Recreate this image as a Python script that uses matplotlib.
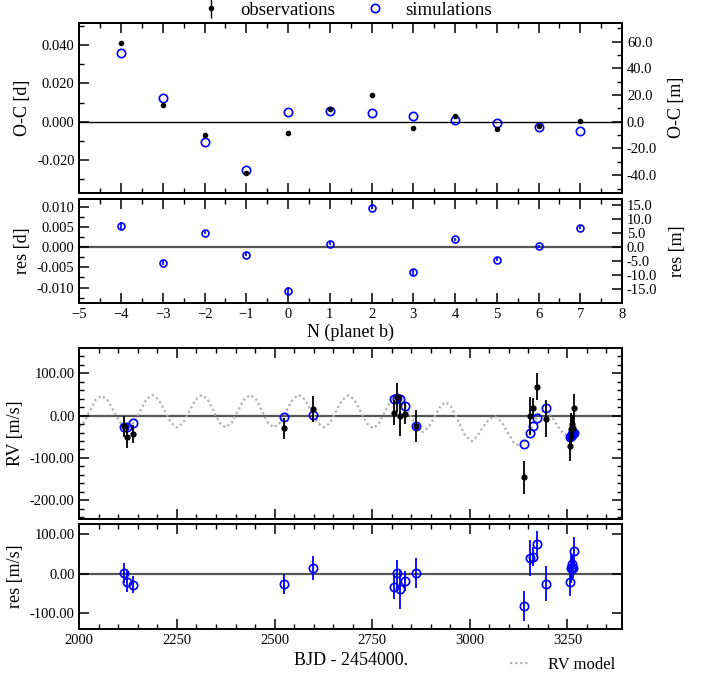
import numpy as np
import matplotlib
matplotlib.use("Agg")
import matplotlib.pyplot as plt
from matplotlib.ticker import MultipleLocator, FuncFormatter

plt.rcParams['font.family'] = ['Liberation Serif', 'DejaVu Serif']
plt.rcParams['axes.linewidth'] = 1.4

# ---- transit timing (planet b) ----
epoch = [-4, -3, -2, -1, 0, 1, 2, 3, 4, 5, 6, 7]
oc_obs = [0.0409, 0.0087, -0.0071, -0.0268, -0.0056, 0.0066, 0.0139, -0.0033, 0.0028, -0.0038, -0.0024, 0.0002]
oc_sim = [0.0357, 0.0126, -0.0107, -0.0249, 0.0050, 0.0057, 0.0043, 0.0028, 0.0009, -0.0009, -0.0028, -0.0047]
oc_res = [0.00525, -0.0040, 0.0036, -0.0019, -0.0108, 0.0009, 0.00975, -0.00625, 0.0019, -0.0031, 0.0002, 0.0048]
oc_err = [0.0009, 0.0005, 0.0004, 0.0004, 0.0009, 0.0004, 0.0004, 0.0008, 0.0004, 0.0004, 0.0004, 0.0004]

# ---- radial velocities ----
rv_day = [2115, 2123, 2137, 2524, 2599, 2805, 2813, 2822, 2835, 2861, 3138,
          3154, 3162, 3171, 3195, 3256, 3259, 3261, 3263, 3265, 3268]
rv_obs = [-25, -50, -44, -30, 15, 7, 43, 0, 5, -24, -146,
          -1, 17, 68, -7, -72, -31, -30, -20, -29, 17]
rv_err = [25, 26, 21, 25, 31, 30, 34, 49, 25, 38, 38,
          45, 24, 32, 44, 35, 38, 30, 22, 25, 34]
rv_sim = [-26, -28, -17, -4, 1, 39, 42, 39, 23, -24, -67,
          -40, -24, -6, 17, -50, -47, -45, -44, -42, -40]
rv_res = [2.5, -20, -28, -27, 14, -33, 1, -39, -18, 1, -81,
          40, 43, 74, -26, -22, 15, 14, 24, 13, 57]

# RV model curve
model_day = [2000, 2012, 2026, 2042, 2057, 2072, 2088, 2104, 2124, 2140, 2156, 2171,
             2187, 2203, 2219, 2235, 2250, 2266, 2282, 2298, 2314, 2329, 2344, 2359,
             2374, 2390, 2406, 2422, 2438, 2453, 2468, 2483, 2498, 2514, 2530, 2546,
             2562, 2578, 2594, 2610, 2626, 2642, 2658, 2673, 2689, 2705, 2720, 2736,
             2752, 2767, 2782, 2797, 2812, 2829, 2846, 2862, 2879, 2896, 2913, 2926,
             2939, 2953, 2968, 2986, 3005, 3020, 3035, 3050, 3065, 3081, 3097, 3113,
             3129, 3145, 3160, 3176, 3193, 3209, 3225, 3242, 3258, 3268, 3275]
model_rv = [-27, -16, 10, 38, 47, 37, 11, -16, -28, -16, 11, 38,
            49, 38, 11, -17, -28, -17, 11, 38, 49, 38, 11, -17,
            -28, -17, 11, 38, 49, 38, 11, -17, -28, -17, 11, 38,
            49, 38, 11, -17, -28, -17, 11, 37, 48, 37, 10, -18,
            -30, -19, 8, 34, 45, 33, 5, -25, -39, -25, 3, 24,
            32, 20, -8, -44, -61, -48, -25, -8, -2, -14, -40, -64,
            -73, -56, -25, 4, 14, 0, -25, -44, -50, -44, -36]

fig = plt.figure(figsize=(7.15, 6.77), dpi=100)
L, W = 0.111, 0.759
ax1 = fig.add_axes([L, 0.715, W, 0.2515])
ax2 = fig.add_axes([L, 0.5525, W, 0.1535])
ax3 = fig.add_axes([L, 0.2335, W, 0.252])
ax4 = fig.add_axes([L, 0.071, W, 0.1545])

blue = '#0000ff'
lab = 13
tk = 10.5


def style(ax, right=True):
    ax.tick_params(which='both', direction='in', top=True, right=right, labelsize=tk)
    ax.tick_params(which='major', length=7, width=1.1)
    ax.tick_params(which='minor', length=3.5, width=1.0)


def fmt(n):
    return FuncFormatter(lambda v, p: f'{v:.{n}f}')


# O-C panel
ax1.axhline(0, color='black', lw=1.0, zorder=1)
obs_h = ax1.errorbar(epoch, oc_obs, yerr=oc_err, fmt='o', color='black', ms=3, elinewidth=1, capsize=0, zorder=3)
sim_h, = ax1.plot(epoch, oc_sim, 'o', mfc='none', mec=blue, mew=1.2, ms=6, zorder=2)
ax1.set_xlim(-5, 8)
ax1.set_ylim(-0.037, 0.0515)
ax1.xaxis.set_major_locator(MultipleLocator(1))
ax1.xaxis.set_minor_locator(MultipleLocator(0.5))
ax1.yaxis.set_major_locator(MultipleLocator(0.02))
ax1.yaxis.set_minor_locator(MultipleLocator(0.01))
ax1.yaxis.set_major_formatter(fmt(3))
ax1.set_xticklabels([])
ax1.set_ylabel('O-C [d]', fontsize=lab)
style(ax1, right=False)
ax1r = ax1.twinx()
ax1r.set_ylim(np.array(ax1.get_ylim()) * 1440)
ax1r.yaxis.set_major_locator(MultipleLocator(20))
ax1r.yaxis.set_minor_locator(MultipleLocator(10))
ax1r.yaxis.set_major_formatter(fmt(1))
ax1r.set_ylabel('O-C [m]', fontsize=lab, labelpad=8)
style(ax1r)

# residuals of timing
ax2.axhline(0, color='#555555', lw=1.6, zorder=1)
ax2.errorbar(epoch, oc_res, yerr=oc_err, fmt='o', mfc='none', mec=blue, ecolor=blue, mew=1.2, ms=5, elinewidth=1.2, capsize=0)
ax2.set_xlim(-5, 8)
ax2.set_ylim(-0.0138, 0.0119)
ax2.xaxis.set_major_locator(MultipleLocator(1))
ax2.xaxis.set_minor_locator(MultipleLocator(0.5))
ax2.yaxis.set_major_locator(MultipleLocator(0.005))
ax2.yaxis.set_minor_locator(MultipleLocator(0.0025))
ax2.yaxis.set_major_formatter(fmt(3))
ax2.set_ylabel('res [d]', fontsize=lab)
ax2.set_xlabel('N (planet b)', fontsize=lab, labelpad=2)
style(ax2, right=False)
ax2r = ax2.twinx()
ax2r.set_ylim(np.array(ax2.get_ylim()) * 1440)
ax2r.yaxis.set_major_locator(MultipleLocator(5))
ax2r.yaxis.set_major_formatter(fmt(1))
ax2r.set_ylabel('res [m]', fontsize=lab, labelpad=8)
style(ax2r)

# RV panel
ax3.axhline(0, color='#555555', lw=1.6, zorder=1)
model_h, = ax3.plot(model_day, model_rv, color='#b0b0b0', lw=1.6, zorder=1,
                    linestyle=(0, (1, 1.3)))
ax3.errorbar(rv_day, rv_obs, yerr=rv_err, fmt='o', color='black', ms=3.5, elinewidth=1.3, capsize=0, zorder=3)
ax3.plot(rv_day, rv_sim, 'o', mfc='none', mec=blue, mew=1.2, ms=6, zorder=2)
ax3.set_xlim(2000, 3390)
ax3.set_ylim(-244, 159)
ax3.xaxis.set_major_locator(MultipleLocator(250))
ax3.xaxis.set_minor_locator(MultipleLocator(50))
ax3.yaxis.set_major_locator(MultipleLocator(100))
ax3.yaxis.set_minor_locator(MultipleLocator(20))
ax3.yaxis.set_major_formatter(fmt(2))
ax3.set_xticklabels([])
ax3.set_ylabel('RV [m/s]', fontsize=lab)
style(ax3)

# RV residuals
ax4.axhline(0, color='#555555', lw=1.6, zorder=1)
ax4.errorbar(rv_day, rv_res, yerr=rv_err, fmt='o', mfc='none', mec=blue, ecolor=blue, mew=1.2, ms=6, elinewidth=1.3, capsize=0)
ax4.set_xlim(2000, 3390)
ax4.set_ylim(-139, 124)
ax4.xaxis.set_major_locator(MultipleLocator(250))
ax4.xaxis.set_minor_locator(MultipleLocator(50))
ax4.yaxis.set_major_locator(MultipleLocator(100))
ax4.yaxis.set_major_formatter(fmt(2))
ax4.set_ylabel('res [m/s]', fontsize=lab)
ax4.set_xlabel('BJD - 2454000.', fontsize=lab, labelpad=4)
style(ax4)

fig.legend([obs_h, sim_h], ['observations', 'simulations'], loc='upper center',
           bbox_to_anchor=(0.483, 1.0), ncol=2, frameon=False, fontsize=13.5,
           handlelength=1.2, columnspacing=1.5, handletextpad=1.0,
           borderpad=0.1, borderaxespad=0)
fig.legend([model_h], ['RV model'], loc='center left', bbox_to_anchor=(0.713, 0.018),
           frameon=False, fontsize=12, handlelength=1.1, handletextpad=1.2,
           borderpad=0, borderaxespad=0)

fig.savefig('out.png', dpi=100)
